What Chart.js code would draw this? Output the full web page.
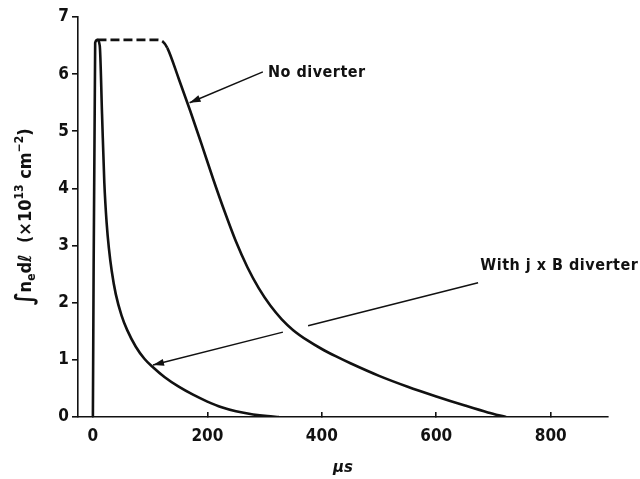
<!DOCTYPE html>
<html>
<head>
<meta charset="utf-8">
<script src="https://cdn.jsdelivr.net/npm/chart.js@4.4.1/dist/chart.umd.min.js"></script>
<style>
  html, body { margin: 0; padding: 0; background: #fff; }
  #wrap { width: 640px; height: 479px; }
</style>
</head>
<body>
<div id="wrap"><canvas id="chart" width="640" height="479"></canvas></div>
<script>
// time in microseconds, line integral in 10^13 cm^-2
const withDivX = [0, 4, 8, 12, 16, 20, 24, 28, 33, 40, 50, 60, 75, 90, 105, 125, 150, 175, 200, 225, 250, 280, 305, 325];
const withDivY = [0, 6.55, 6.6, 6.5, 5.3, 4.1, 3.4, 2.95, 2.55, 2.15, 1.78, 1.52, 1.23, 1.02, 0.87, 0.7, 0.53, 0.39, 0.27, 0.17, 0.1, 0.045, 0.015, 0];

// dashed part (extrapolated plateau) then measured decay
const noDivX = [8, 60, 112, 122, 130, 150, 170, 190, 210, 230, 250, 270, 290, 310, 330, 350, 375, 400, 425, 450, 500, 550, 600, 650, 690, 722];
const noDivY = [6.6, 6.6, 6.6, 6.57, 6.46, 5.92, 5.36, 4.77, 4.17, 3.6, 3.07, 2.62, 2.25, 1.95, 1.71, 1.52, 1.34, 1.19, 1.06, 0.94, 0.72, 0.53, 0.36, 0.2, 0.08, 0];
const dashedUntil = 130;

const xTicks = [0, 200, 400, 600, 800];
const yTicks = [0, 1, 2, 3, 4, 5, 6, 7];

const labels = [
  { text: 'No diverter', x: 306, y: 6.02, from: [297, 6.04], to: [169, 5.5], gap: null },
  { text: 'With j x B diverter', x: 677, y: 2.64, from: [673, 2.35], to: [105, 0.91], gap: [332, 376] }
];

// y title pieces: text, font size, baseline shift (+ = subscript)
const yTitle = [
  ['∫', 24, 1], ['n', 18, 0], ['e', 12, 4], ['d', 18, 0], ['ℓ', 18, 0],
  ['  (×10', 18, 0], ['13', 12, -8], [' cm', 18, 0], ['−2', 12, -8], [')', 18, 0]
];

const toPoints = (xs, ys) => xs.map((x, i) => ({ x: x, y: ys[i] }));

const annotate = {
  id: 'annotate',
  afterDatasetsDraw(chart) {
    const { ctx, scales: { x, y } } = chart;
    ctx.save();
    ctx.strokeStyle = '#111';
    ctx.fillStyle = '#111';
    ctx.lineWidth = 1.5;
    labels.forEach(l => {
      const x1 = x.getPixelForValue(l.from[0]), y1 = y.getPixelForValue(l.from[1]);
      const x2 = x.getPixelForValue(l.to[0]), y2 = y.getPixelForValue(l.to[1]);
      const at = px => y1 + (y2 - y1) * (px - x1) / (x2 - x1);
      ctx.beginPath();
      if (l.gap) {
        const ga = x.getPixelForValue(l.gap[1]), gb = x.getPixelForValue(l.gap[0]);
        ctx.moveTo(x1, y1); ctx.lineTo(ga, at(ga));
        ctx.moveTo(gb, at(gb)); ctx.lineTo(x2, y2);
      } else {
        ctx.moveTo(x1, y1); ctx.lineTo(x2, y2);
      }
      ctx.stroke();
      // arrow head
      const ang = Math.atan2(y2 - y1, x2 - x1);
      const len = 11, half = 3.5;
      ctx.beginPath();
      ctx.moveTo(x2, y2);
      ctx.lineTo(x2 - len * Math.cos(ang) + half * Math.sin(ang), y2 - len * Math.sin(ang) - half * Math.cos(ang));
      ctx.lineTo(x2 - len * Math.cos(ang) - half * Math.sin(ang), y2 - len * Math.sin(ang) + half * Math.cos(ang));
      ctx.closePath();
      ctx.fill();

      ctx.font = 'bold 16px "DejaVu Sans Condensed"';
      ctx.letterSpacing = '0.5px';
      ctx.textBaseline = 'middle';
      ctx.textAlign = 'left';
      ctx.fillText(l.text, x.getPixelForValue(l.x), y.getPixelForValue(l.y));
      ctx.letterSpacing = '0px';
    });

    // rotated y axis title with sub/superscripts
    const fontOf = s => 'bold ' + s + 'px "DejaVu Sans Condensed"';
    let total = 0;
    yTitle.forEach(p => { ctx.font = fontOf(p[1]); total += ctx.measureText(p[0]).width; });
    const cy = (chart.chartArea.top + chart.chartArea.bottom) / 2;
    ctx.translate(31, cy);
    ctx.rotate(-Math.PI / 2);
    ctx.textAlign = 'left';
    ctx.textBaseline = 'alphabetic';
    let pos = -total / 2;
    yTitle.forEach(p => {
      ctx.font = fontOf(p[1]);
      ctx.fillText(p[0], pos, p[2]);
      pos += ctx.measureText(p[0]).width;
    });
    ctx.restore();
  }
};

new Chart(document.getElementById('chart'), {
  type: 'line',
  data: {
    datasets: [
      {
        label: 'With j x B diverter',
        data: toPoints(withDivX, withDivY),
        borderColor: '#111',
        borderWidth: 2.6,
        pointRadius: 0,
        cubicInterpolationMode: 'monotone',
        fill: false
      },
      {
        label: 'No diverter',
        data: toPoints(noDivX, noDivY),
        borderColor: '#111',
        borderWidth: 2.6,
        pointRadius: 0,
        cubicInterpolationMode: 'monotone',
        fill: false,
        segment: {
          borderDash: c => c.p1.parsed.x <= dashedUntil ? [9, 4] : undefined
        }
      }
    ]
  },
  options: {
    responsive: false,
    animation: false,
    layout: { padding: { top: 17, right: 32, left: 0, bottom: 0 } },
    plugins: { legend: { display: false }, tooltip: { enabled: false } },
    scales: {
      x: {
        type: 'linear',
        min: -26,
        max: 900,
        afterBuildTicks: s => { s.ticks = xTicks.map(v => ({ value: v })); },
        afterFit: s => { s.height = 62; },
        border: { color: '#111', width: 1.6 },
        grid: { drawOnChartArea: false, drawTicks: true, tickLength: -5, color: '#111', lineWidth: 1.6 },
        ticks: { color: '#111', padding: 14, maxRotation: 0, font: { family: 'DejaVu Sans Condensed', size: 17, weight: 'bold' } },
        title: {
          display: true,
          text: 'µs',
          color: '#111',
          font: { family: 'DejaVu Sans', size: 15, style: 'italic', weight: 'bold' },
          padding: { top: 0, bottom: 2 }
        }
      },
      y: {
        min: 0,
        max: 7,
        afterBuildTicks: s => { s.ticks = yTicks.map(v => ({ value: v })); },
        afterFit: s => { s.width = 78; },
        border: { color: '#111', width: 1.6 },
        grid: { drawOnChartArea: false, drawTicks: true, tickLength: 6, color: '#111', lineWidth: 1.6 },
        ticks: { color: '#111', padding: 3, font: { family: 'DejaVu Sans Condensed', size: 17, weight: 'bold' } },
        title: { display: false }
      }
    }
  },
  plugins: [annotate]
});
</script>
</body>
</html>
